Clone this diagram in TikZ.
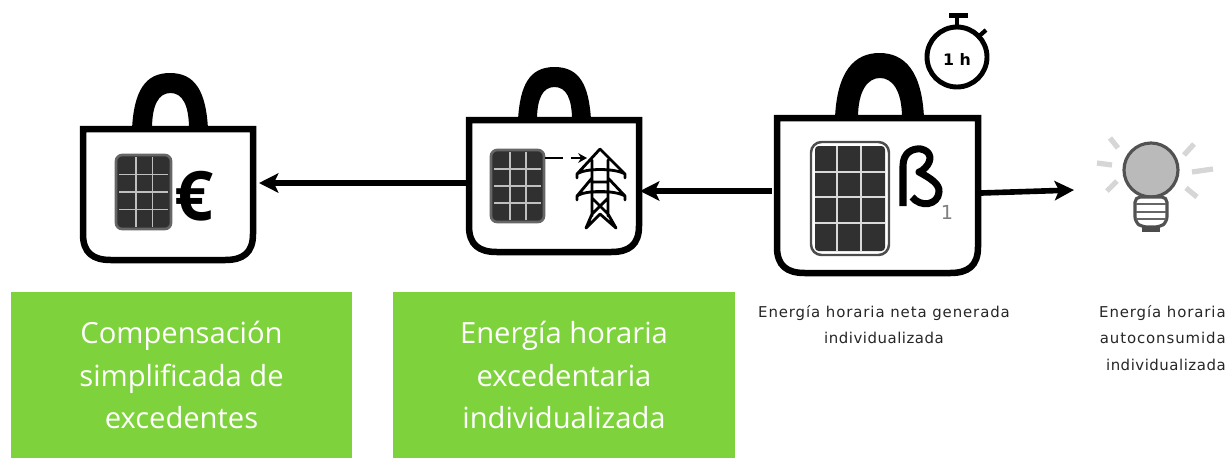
\documentclass[tikz,border=0pt]{standalone}
\usepackage{fontspec}
\setmainfont{Open Sans}
\newfontfamily\dejavu{DejaVu Sans}
\newfontfamily\capfont[LetterSpace=6]{DejaVu Sans}
\newfontfamily\capfontb[LetterSpace=3.5]{DejaVu Sans}
\usetikzlibrary{arrows.meta}
\definecolor{leaf}{RGB}{126,211,60}
\definecolor{cell}{RGB}{48,48,48}
\tikzset{
  bagline/.style={draw=black,line width=3.7pt,line join=miter},
  flow/.style={draw=black,line width=3.2pt,-{Stealth[length=11pt,width=11pt,inset=2.5pt]}},
  greenbox/.style={fill=leaf,draw=none,text=white,align=center,font=\fontsize{16.6}{24}\selectfont,inner sep=0pt},
  smalltext/.style={align=center,text=black!85,font=\capfont\fontsize{8.5}{15}\selectfont,inner sep=0pt},
  ray/.style={draw=black!16,line width=3pt},
  tower/.style={draw=black,line width=1.6pt,line join=round,line cap=round},
  bagbody/.style={draw=none,inner sep=0pt,outer sep=0pt}
}
% name, left, top, right, bottom (centre of stroke)
\newcommand{\bagshape}[5]{%
  \pgfmathsetmacro{\bcx}{(#2+#4)/2}\pgfmathsetmacro{\bcy}{(#3+#5)/2}%
  \pgfmathsetmacro{\bw}{#4-#2}\pgfmathsetmacro{\bh}{#5-#3}%
  \node[bagbody,minimum width=\bw*0.02cm,minimum height=\bh*0.02cm] (#1) at (\bcx,\bcy) {};
  \draw[bagline] (#2,#3) -- (#4,#3) -- (#4,#5-26) .. controls (#4,#5-7) and (#4-10,#5) .. (#4-28,#5)
    -- (#2+28,#5) .. controls (#2+10,#5) and (#2,#5-7) .. (#2,#5-26) -- cycle;
}
% base y, outer left, outer right, outer top, inner left, inner right, inner top
\newcommand{\baghandle}[7]{%
  \pgfmathsetmacro{\hm}{(#2+#3)/2}\pgfmathsetmacro{\hmi}{(#5+#6)/2}%
  \fill[black,even odd rule] (#2,#1) .. controls (#2+2,#4+18) and (\hm-25,#4) .. (\hm,#4)
     .. controls (\hm+25,#4) and (#3-2,#4+18) .. (#3,#1) -- cycle
     (#5,#1) .. controls (#5,#7+12) and (\hmi-12,#7) .. (\hmi,#7)
     .. controls (\hmi+12,#7) and (#6,#7+12) .. (#6,#1) -- cycle;
}
% x1,y1,x2,y2, grid colour, grid width
\newcommand{\solarpanel}[6]{%
  \filldraw[fill=cell,draw=black!60,line width=1.5pt,rounded corners=3.5pt] (#1,#2) rectangle (#3,#4);
  \foreach \fr in {0.36,0.66}{\draw[#5,line width=#6] ({#1+(#3-#1)*\fr},#2+2) -- ({#1+(#3-#1)*\fr},#4-2);}
  \foreach \fr in {0.265,0.5,0.735}{\draw[#5,line width=#6] (#1+3,{#2+(#4-#2)*\fr}) -- (#3-3,{#2+(#4-#2)*\fr});}
}
\begin{document}
\begin{tikzpicture}[x=0.02cm,y=-0.02cm]
\useasboundingbox (0,0) rectangle (1228,458);
% green boxes
\node[greenbox,minimum width=6.82cm,minimum height=3.32cm] (g1) at (181.5,375) {Compensación\\simplificada de\\excedentes};
\node[greenbox,minimum width=6.84cm,minimum height=3.32cm] (g2) at (564,375) {Energía horaria\\excedentaria\\individualizada};
% bags
\baghandle{129}{132}{208}{73}{152}{189}{93}
\bagshape{bag1}{83}{129}{253}{260}
\baghandle{120}{518}{591}{67}{537}{572}{87}
\bagshape{bag2}{469}{120}{639}{252}
\baghandle{118}{835}{924}{53}{858}{902}{78}
\bagshape{bag3}{777}{118}{978}{273}
% panels
\solarpanel{116}{155}{171}{229}{black!25}{0.9pt}
\solarpanel{491}{150}{544}{222}{black!25}{0.9pt}
\filldraw[fill=white,draw=black!70,line width=1.4pt,rounded corners=6pt] (811,142) rectangle (889,255);
\fill[cell,rounded corners=2pt] (815,146) rectangle (885,251);
\foreach \vx in {837,861}{\draw[black!15,line width=1.6pt] (\vx,146) -- (\vx,251);}
\foreach \hy in {172,197,223}{\draw[black!15,line width=1.6pt] (815,\hy) -- (885,\hy);}
% euro
\node[inner sep=0pt,font=\bfseries\fontsize{39}{39}\selectfont] (euro) at (194,196) {€};
% beta
\draw[black,line width=4pt,line join=round] (903,206) -- (903,166) .. controls (903,153) and (912,148) .. (921,149)
   .. controls (931,151) and (933,160) .. (925,168) .. controls (921,172) and (919,172) .. (919,172)
   .. controls (930,178) and (940,184) .. (939,192) .. controls (938,205) and (921,208) .. (912,197);
\node[inner sep=0pt,text=black!50,font=\dejavu\fontsize{11}{12}\selectfont] (sub) at (947,212) {1};
% dashed arrow and tower
\draw[black,line width=1.3pt,dashed,dash pattern=on 10pt off 5pt,-{Stealth[length=5pt,width=5.5pt]}] (545,158) -- (587,158);
\draw[tower] (600,149) -- (577,174) -- (577,178) (600,149) -- (625,174) -- (625,178)
  (577,174) .. controls (585,168) and (615,168) .. (625,174)
  (592,160) -- (592,216) (608,160) -- (608,216)
  (592,182) -- (608,182) (592,192) -- (608,192)
  (592,178) -- (577,196) -- (577,200) (608,178) -- (625,196) -- (625,200)
  (577,196) .. controls (585,190) and (615,190) .. (625,196)
  (592,198) -- (608,214) (608,198) -- (592,214)
  (592,214) -- (586,228) -- (600,214) -- (616,228) -- (608,214);
% stopwatch
\draw[black,line width=2.8pt] (957,57) circle (30);
\draw[black,line width=2.6pt] (957,15) -- (957,27);
\draw[black,line width=3pt] (949,15.5) -- (968,15.5);
\draw[black,line width=2.4pt] (977,38) -- (986,30);
\node[inner sep=0pt,font=\dejavu\bfseries\fontsize{9}{10}\selectfont] (hour) at (957,59) {1 h};
% bulb
\filldraw[fill=black!27,draw=black!68,line width=1.8pt] (1151,170) circle (27);
\filldraw[fill=white,draw=black!68,line width=1.8pt,rounded corners=3pt] (1135,197) -- (1167,197) -- (1167,222) -- (1160,227) -- (1142,227) -- (1135,222) -- cycle;
\foreach \hy in {204,212,219}{\draw[black!60,line width=1.5pt] (1136,\hy) -- (1166,\hy);}
\fill[black!70] (1142,226) rectangle (1160,232);
\coordinate (bulbw) at (1074,190);
\draw[ray] (1110,138) -- (1118,148);
\draw[ray] (1097,163) -- (1112,165);
\draw[ray] (1117,181) -- (1107,191);
\draw[ray] (1194,144) -- (1184,155);
\draw[ray] (1192,172) -- (1213,169);
\draw[ray] (1186,188) -- (1197,197);
% connectors
\coordinate (c1s) at (466,183); \coordinate (c1e) at (259,183);
\coordinate (c2s) at (772,191); \coordinate (c2e) at (640,191);
\coordinate (c3s) at (981,193);
\draw[flow] (c1s) -- (c1e);
\draw[flow] (c2s) -- (c2e);
\draw[flow] (c3s) -- (bulbw);
% captions
\node[smalltext] (t1) at (884,324.5) {Energía horaria neta generada\\{\capfontb\fontsize{8.5}{15}\selectfont individualizada}};
\node[smalltext,align=right,anchor=east] (t2) at (1226,338) {Energía horaria\\autoconsumida\\{\capfontb\fontsize{8.5}{15}\selectfont individualizada}};
\end{tikzpicture}
\end{document}
